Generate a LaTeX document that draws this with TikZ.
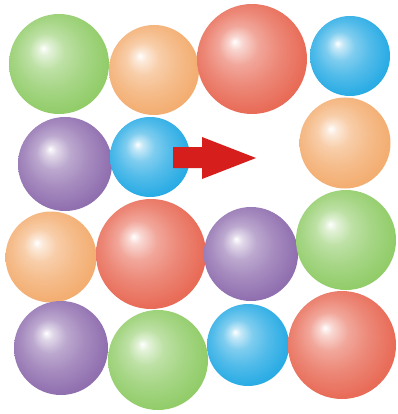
\documentclass[tikz,border=0pt]{standalone}
\definecolor{cgreen}{RGB}{136,200,92}
\definecolor{corange}{RGB}{242,166,100}
\definecolor{cred}{RGB}{230,94,72}
\definecolor{cblue}{RGB}{22,164,226}
\definecolor{cpurple}{RGB}{134,98,168}
\definecolor{carrow}{RGB}{214,30,28}
\newcommand{\mksphere}[2]{%
  \pgfdeclareradialshading{#1}{\pgfpoint{-8bp}{8bp}}{%
    color(0bp)=(white);
    color(3bp)=(#2!25!white);
    color(9bp)=(#2!55!white);
    color(17bp)=(#2!74!white);
    color(26bp)=(#2!90!white);
    color(34bp)=(#2);
    color(40bp)=(#2!94!black)}}
\mksphere{sgreen}{cgreen}
\mksphere{sorange}{corange}
\mksphere{sred}{cred}
\mksphere{sblue}{cblue}
\mksphere{spurple}{cpurple}
\begin{document}
\begin{tikzpicture}[x=1pt,y=-1pt]
\useasboundingbox (0,0) rectangle (397,414);
\fill[white] (0,0) rectangle (397,414);
\tikzset{ball/.style={shading=#1}}
% row 1
\shade[ball=sgreen]  (59,64)  circle[radius=50pt];
\shade[ball=sorange] (154,70) circle[radius=45pt];
\shade[ball=sred]    (252,59) circle[radius=55pt];
\shade[ball=sblue]   (350,56) circle[radius=40pt];
% row 2
\shade[ball=spurple] (65,164) circle[radius=47pt];
\shade[ball=sblue]   (150,157) circle[radius=40pt];
\shade[ball=sorange] (345,143) circle[radius=45.5pt];
% row 3
\shade[ball=sorange] (51,257) circle[radius=45.5pt];
\shade[ball=sred]    (151,254) circle[radius=55pt];
\shade[ball=spurple] (251,254) circle[radius=47pt];
\shade[ball=sgreen]  (346,240) circle[radius=50pt];
% row 4
\shade[ball=spurple] (61,348) circle[radius=47pt];
\shade[ball=sgreen]  (158,360) circle[radius=50pt];
\shade[ball=sblue]   (248,345) circle[radius=41pt];
\shade[ball=sred]    (342,345) circle[radius=54pt];
% arrow
\fill[carrow] (173,147) -- (202,147) -- (202,137) -- (256,158) -- (202,179) -- (202,168) -- (173,168) -- cycle;
\end{tikzpicture}
\end{document}
